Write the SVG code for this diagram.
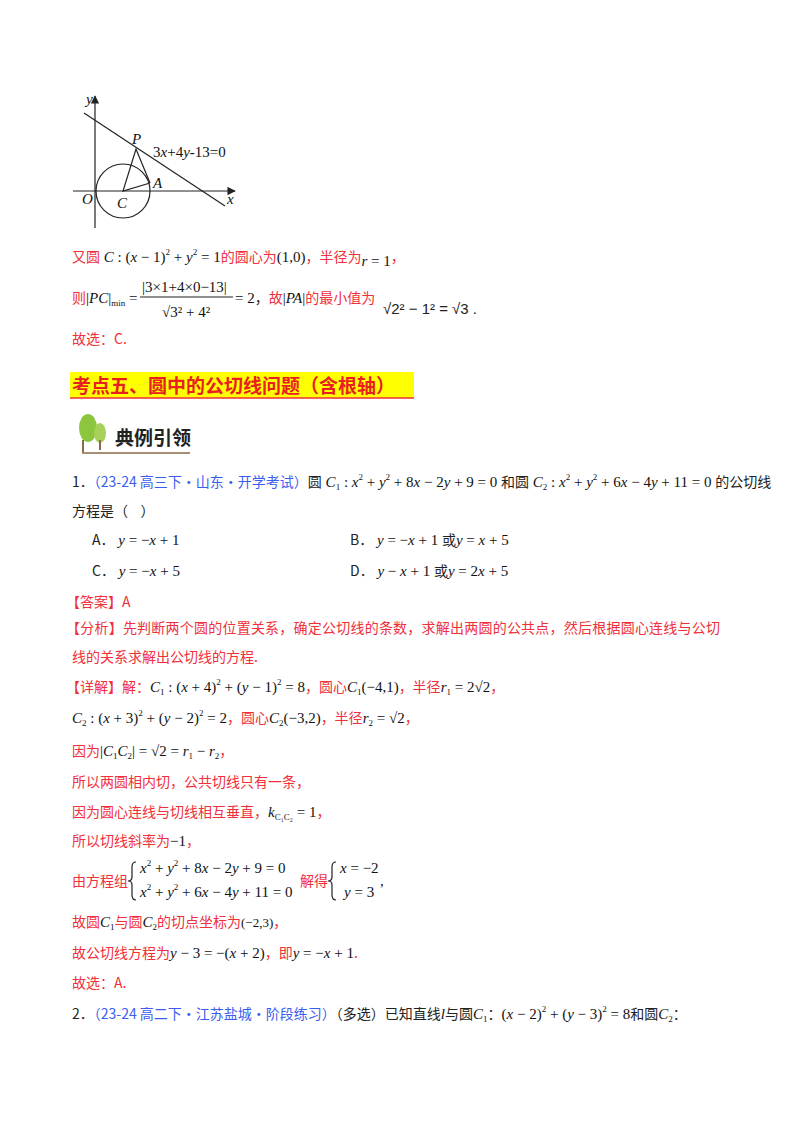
<svg xmlns="http://www.w3.org/2000/svg" width="800" height="1132" viewBox="0 0 800 1132">
<style>
text{font-family:"Noto Sans CJK SC","Liberation Sans",sans-serif;font-size:14px;fill:#222}
.r{fill:#f0303a}
.b{fill:#3a5df0}
.m{font-family:"Liberation Serif",serif;font-style:italic;font-size:15px;fill:#111}
.n{font-family:"Liberation Serif",serif;font-size:15px;fill:#111}
.s{font-size:9px}
.ln{stroke:#222;stroke-width:1.2;fill:none}
</style>
<defs><marker id="ar" viewBox="0 0 10 10" refX="9" refY="5" markerWidth="7" markerHeight="7" orient="auto"><path d="M0,0L10,5L0,10z" fill="#222"/></marker></defs>
<rect width="800" height="1132" fill="#fff"/>
<g id="graph">
<line class="ln" x1="73" y1="191" x2="235" y2="191" marker-end="url(#ar)"/>
<line class="ln" x1="95" y1="228" x2="95" y2="96" marker-end="url(#ar)"/>
<circle class="ln" cx="123" cy="191" r="27"/>
<line class="ln" x1="84" y1="113" x2="225" y2="206"/>
<polyline class="ln" points="150,183 123,191 136,149 150,183"/>
<text class="m" x="86" y="104">y</text>
<text class="m" x="132" y="144">P</text>
<text class="n" x="153" y="157">3<tspan font-style="italic">x</tspan>+4<tspan font-style="italic">y</tspan>-13=0</text>
<text class="m" x="153" y="188">A</text>
<text class="m" x="82" y="204">O</text>
<text class="m" x="117" y="208">C</text>
<text class="m" x="227" y="204">x</text>
</g>
<text x="72" y="262"><tspan class="r">又圆</tspan><tspan class="m"> C</tspan><tspan class="n"> : (</tspan><tspan class="m">x</tspan><tspan class="n"> − 1)</tspan><tspan class="n s" dy="-7">2</tspan><tspan class="n" dy="7"> + </tspan><tspan class="m">y</tspan><tspan class="n s" dy="-7">2</tspan><tspan class="n" dy="7"> = 1</tspan><tspan class="r">的圆心为</tspan><tspan class="n">(1,0)</tspan><tspan class="r">，半径为</tspan><tspan class="m" dy="4">r</tspan><tspan class="n"> = 1</tspan><tspan class="r" dy="-4">，</tspan></text>
<text x="72" y="303"><tspan class="r">则</tspan><tspan class="n">|</tspan><tspan class="m">PC</tspan><tspan class="n">|</tspan><tspan class="n s" dy="3">min</tspan><tspan class="n" dy="-3"> =</tspan></text>
<text class="n" x="142" y="292">|3×1+4×0−13|</text>
<line class="ln" x1="140" y1="297" x2="233" y2="297" stroke-width="0.8"/>
<text class="n" x="162" y="317">√3² + 4²</text>
<text x="235" y="303"><tspan class="n">= 2</tspan>，<tspan class="r">故</tspan><tspan class="n">|</tspan><tspan class="m">PA</tspan><tspan class="n">|</tspan><tspan class="r">的最小值为</tspan></text>
<text x="383" y="314" style="font-family:'Liberation Sans',sans-serif;font-size:15px">√2² − 1²  =  √3 .</text>
<text x="72" y="344" class="r">故选：C.</text>
<g id="heading">
<rect x="70" y="372" width="344" height="26" fill="#ffff00"/>
<line x1="70" y1="398" x2="414" y2="398" stroke="#f03030" stroke-width="1.5"/>
<text x="72" y="393" style="font-size:19px;font-weight:bold;fill:#e82020">考点五、圆中的公切线问题（含根轴）</text>
</g>
<g id="icon">
<ellipse cx="88" cy="428" rx="9" ry="14" fill="#8cc63f"/>
<ellipse cx="100" cy="433" rx="6" ry="10" fill="#a6d15a"/>
<line x1="83" y1="440" x2="83" y2="452" stroke="#8a6a45" stroke-width="2"/>
<line x1="100" y1="440" x2="100" y2="450" stroke="#8a6a45" stroke-width="2"/>
<line x1="82" y1="453" x2="190" y2="453" stroke="#8a6a45" stroke-width="1.5"/>
<text x="115" y="445" style="font-size:19px;font-weight:bold;fill:#222">典例引领</text>
</g>
<text x="72" y="487">1．<tspan class="b">（23-24 高三下·山东·开学考试）</tspan>圆<tspan class="m"> C</tspan><tspan class="n s" dy="3">1</tspan><tspan class="n" dy="-3"> : </tspan><tspan class="m">x</tspan><tspan class="n s" dy="-7">2</tspan><tspan class="n" dy="7"> + </tspan><tspan class="m">y</tspan><tspan class="n s" dy="-7">2</tspan><tspan class="n" dy="7"> + 8</tspan><tspan class="m">x</tspan><tspan class="n"> − 2</tspan><tspan class="m">y</tspan><tspan class="n"> + 9 = 0 </tspan>和圆<tspan class="m"> C</tspan><tspan class="n s" dy="3">2</tspan><tspan class="n" dy="-3"> : </tspan><tspan class="m">x</tspan><tspan class="n s" dy="-7">2</tspan><tspan class="n" dy="7"> + </tspan><tspan class="m">y</tspan><tspan class="n s" dy="-7">2</tspan><tspan class="n" dy="7"> + 6</tspan><tspan class="m">x</tspan><tspan class="n"> − 4</tspan><tspan class="m">y</tspan><tspan class="n"> + 11 = 0 </tspan>的公切线</text>
<text x="72" y="516" xml:space="preserve">方程是（    ）</text>
<text x="92" y="545">A．<tspan class="m"> y</tspan><tspan class="n"> = −</tspan><tspan class="m">x</tspan><tspan class="n"> + 1</tspan></text>
<text x="350" y="545">B．<tspan class="m"> y</tspan><tspan class="n"> = −</tspan><tspan class="m">x</tspan><tspan class="n"> + 1 </tspan>或<tspan class="m">y</tspan><tspan class="n"> = </tspan><tspan class="m">x</tspan><tspan class="n"> + 5</tspan></text>
<text x="92" y="576">C．<tspan class="m"> y</tspan><tspan class="n"> = −</tspan><tspan class="m">x</tspan><tspan class="n"> + 5</tspan></text>
<text x="350" y="576">D．<tspan class="m"> y</tspan><tspan class="n"> − </tspan><tspan class="m">x</tspan><tspan class="n"> + 1 </tspan>或<tspan class="m">y</tspan><tspan class="n"> = 2</tspan><tspan class="m">x</tspan><tspan class="n"> + 5</tspan></text>
<text x="66" y="607" class="r">【答案】A</text>
<text x="66" y="633" class="r" textLength="654">【分析】先判断两个圆的位置关系，确定公切线的条数，求解出两圆的公共点，然后根据圆心连线与公切</text>
<text x="72" y="662" class="r">线的关系求解出公切线的方程.</text>
<text x="66" y="692"><tspan class="r">【详解】解：</tspan><tspan class="m">C</tspan><tspan class="n s" dy="3">1</tspan><tspan class="n" dy="-3"> : (</tspan><tspan class="m">x</tspan><tspan class="n"> + 4)</tspan><tspan class="n s" dy="-7">2</tspan><tspan class="n" dy="7"> + (</tspan><tspan class="m">y</tspan><tspan class="n"> − 1)</tspan><tspan class="n s" dy="-7">2</tspan><tspan class="n" dy="7"> = 8</tspan><tspan class="r">，圆心</tspan><tspan class="m">C</tspan><tspan class="n s" dy="3">1</tspan><tspan class="n" dy="-3">(−4,1)</tspan><tspan class="r">，半径</tspan><tspan class="m">r</tspan><tspan class="n s" dy="3">1</tspan><tspan class="n" dy="-3"> = 2√2</tspan><tspan class="r">，</tspan></text>
<text x="72" y="723"><tspan class="m">C</tspan><tspan class="n s" dy="3">2</tspan><tspan class="n" dy="-3"> : (</tspan><tspan class="m">x</tspan><tspan class="n"> + 3)</tspan><tspan class="n s" dy="-7">2</tspan><tspan class="n" dy="7"> + (</tspan><tspan class="m">y</tspan><tspan class="n"> − 2)</tspan><tspan class="n s" dy="-7">2</tspan><tspan class="n" dy="7"> = 2</tspan><tspan class="r">，圆心</tspan><tspan class="m">C</tspan><tspan class="n s" dy="3">2</tspan><tspan class="n" dy="-3">(−3,2)</tspan><tspan class="r">，半径</tspan><tspan class="m">r</tspan><tspan class="n s" dy="3">2</tspan><tspan class="n" dy="-3"> = √2</tspan><tspan class="r">，</tspan></text>
<text x="72" y="756"><tspan class="r">因为</tspan><tspan class="n">|</tspan><tspan class="m">C</tspan><tspan class="n s" dy="3">1</tspan><tspan class="m" dy="-3">C</tspan><tspan class="n s" dy="3">2</tspan><tspan class="n" dy="-3">| = √2 = </tspan><tspan class="m">r</tspan><tspan class="n s" dy="3">1</tspan><tspan class="n" dy="-3"> − </tspan><tspan class="m">r</tspan><tspan class="n s" dy="3">2</tspan><tspan class="r" dy="-3">，</tspan></text>
<text x="72" y="787" class="r">所以两圆相内切，公共切线只有一条，</text>
<text x="72" y="817"><tspan class="r">因为圆心连线与切线相互垂直，</tspan><tspan class="m">k</tspan><tspan class="n s" dy="3">C₁C₂</tspan><tspan class="n" dy="-3"> = 1</tspan><tspan class="r">，</tspan></text>
<text x="72" y="846" class="r">所以切线斜率为<tspan class="n">−1</tspan>，</text>
<text x="72" y="886" class="r">由方程组</text>
<path d="M136,862 q-4,0 -4,5 v10 q0,4 -4,4 q4,0 4,4 v10 q0,5 4,5" class="ln" stroke-width="1"/>
<text x="140" y="873"><tspan class="m">x</tspan><tspan class="n s" dy="-7">2</tspan><tspan class="n" dy="7"> + </tspan><tspan class="m">y</tspan><tspan class="n s" dy="-7">2</tspan><tspan class="n" dy="7"> + 8</tspan><tspan class="m">x</tspan><tspan class="n"> − 2</tspan><tspan class="m">y</tspan><tspan class="n"> + 9 = 0</tspan></text>
<text x="140" y="897"><tspan class="m">x</tspan><tspan class="n s" dy="-7">2</tspan><tspan class="n" dy="7"> + </tspan><tspan class="m">y</tspan><tspan class="n s" dy="-7">2</tspan><tspan class="n" dy="7"> + 6</tspan><tspan class="m">x</tspan><tspan class="n"> − 4</tspan><tspan class="m">y</tspan><tspan class="n"> + 11 = 0</tspan></text>
<text x="300" y="886" class="r">解得</text>
<path d="M336,862 q-4,0 -4,5 v10 q0,4 -4,4 q4,0 4,4 v10 q0,5 4,5" class="ln" stroke-width="1"/>
<text x="340" y="873"><tspan class="m">x</tspan><tspan class="n"> = −2</tspan></text>
<text x="344" y="897"><tspan class="m">y</tspan><tspan class="n"> = 3</tspan></text>
<text x="380" y="886" class="n">,</text>
<text x="72" y="927"><tspan class="r">故圆</tspan><tspan class="m">C</tspan><tspan class="n s" dy="3">1</tspan><tspan class="r" dy="-3">与圆</tspan><tspan class="m">C</tspan><tspan class="n s" dy="3">2</tspan><tspan class="r" dy="-3">的切点坐标为</tspan><tspan class="n" style="font-size:13px">(−2,3)</tspan><tspan class="r">，</tspan></text>
<text x="72" y="958"><tspan class="r">故公切线方程为</tspan><tspan class="m">y</tspan><tspan class="n"> − 3 = −(</tspan><tspan class="m">x</tspan><tspan class="n"> + 2)</tspan><tspan class="r">，即</tspan><tspan class="m">y</tspan><tspan class="n"> = −</tspan><tspan class="m">x</tspan><tspan class="n"> + 1</tspan><tspan class="r">.</tspan></text>
<text x="72" y="988" class="r">故选：A.</text>
<text x="72" y="1019">2．<tspan class="b">（23-24 高二下·江苏盐城·阶段练习）</tspan>（多选）已知直线<tspan class="m">l</tspan>与圆<tspan class="m">C</tspan><tspan class="n s" dy="3">1</tspan><tspan dy="-3">：</tspan><tspan class="n">(</tspan><tspan class="m">x</tspan><tspan class="n"> − 2)</tspan><tspan class="n s" dy="-7">2</tspan><tspan class="n" dy="7"> + (</tspan><tspan class="m">y</tspan><tspan class="n"> − 3)</tspan><tspan class="n s" dy="-7">2</tspan><tspan class="n" dy="7"> = 8</tspan>和圆<tspan class="m">C</tspan><tspan class="n s" dy="3">2</tspan><tspan dy="-3">：</tspan></text>
</svg>
